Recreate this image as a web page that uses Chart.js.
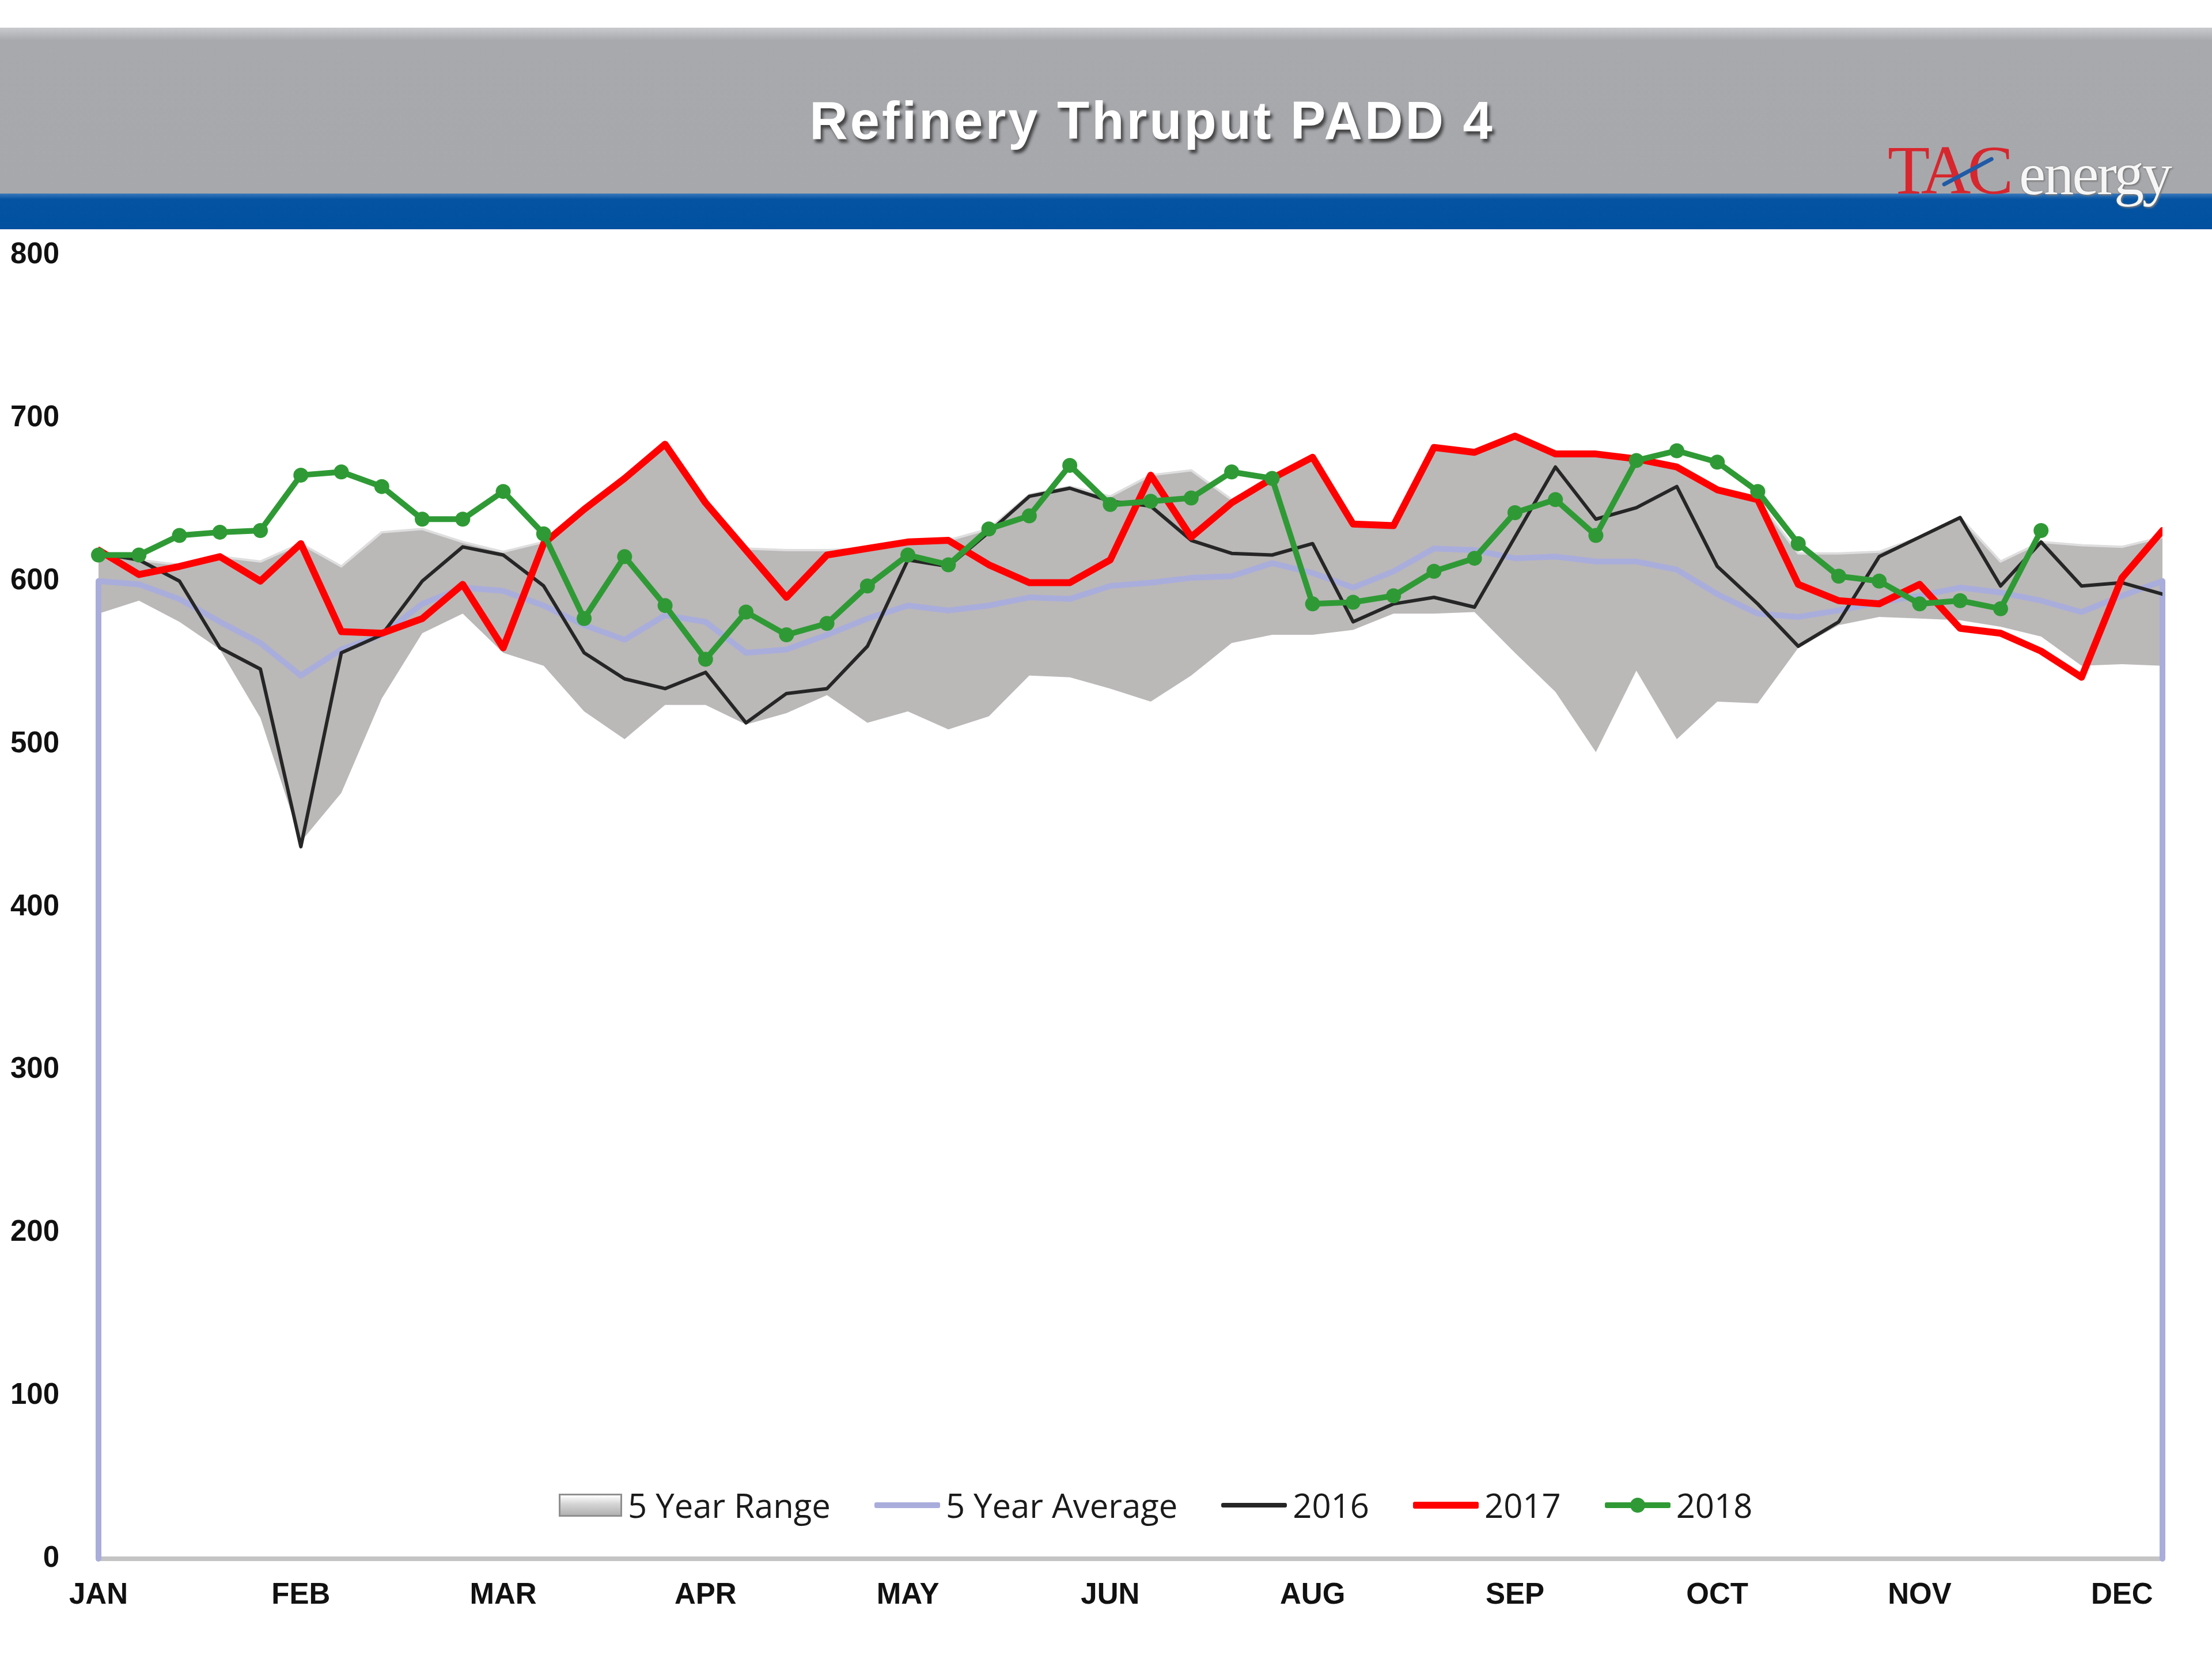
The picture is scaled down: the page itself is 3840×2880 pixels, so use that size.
<!DOCTYPE html>
<html>
<head>
<meta charset="utf-8">
<script src="https://cdn.jsdelivr.net/npm/chart.js@4.4.1/dist/chart.umd.min.js"></script>
<style>
html,body{margin:0;padding:0;background:#ffffff;}
body{width:3840px;height:2880px;position:relative;overflow:hidden;}
#c{position:absolute;left:0;top:0;}
#band{position:absolute;left:0;top:48px;width:3840px;height:288px;
  background:linear-gradient(to bottom,#c9cacd 0px,#a8a9ad 22px,#a7a8ac 100%);}
#blue{position:absolute;left:0;top:336px;width:3840px;height:62px;
  background:linear-gradient(to bottom,#3a78bb 0px,#0453a2 10px,#0051a0 100%);}
#title{position:absolute;left:2000px;top:163px;transform:translateX(-50%);
  font-family:"Liberation Sans",Arial,sans-serif;font-weight:bold;font-size:92px;line-height:1;
  letter-spacing:4px;color:#ffffff;white-space:nowrap;
  text-shadow:4px 6px 5px rgba(50,50,50,0.85);}
#logoTac{position:absolute;left:3277px;top:236px;font-family:"Liberation Serif","Times New Roman",serif;
  font-size:120px;line-height:1;color:#d7262d;letter-spacing:-6px;white-space:nowrap;}
#logoSwoosh{position:absolute;left:3372px;top:318px;width:100px;height:7px;background:#1f5aa6;
  border-radius:4px;transform:rotate(-28deg);transform-origin:left center;}
#logoEnergy{position:absolute;left:3505px;top:250px;font-family:"Liberation Serif","Times New Roman",serif;
  font-size:104px;line-height:1;color:#f6f6f6;letter-spacing:-3px;white-space:nowrap;
  text-shadow:0 0 2px #6e6e6e,2px 2px 3px #7a7a7a;}
#legend{position:absolute;left:970px;top:2573px;height:80px;display:flex;align-items:center;
  font-family:"Open Sans","Liberation Sans",sans-serif;font-size:58px;color:#1a1a1a;white-space:nowrap;}
.item{display:flex;align-items:center;margin-right:76px;}
.item span.t{margin-left:10px;line-height:1;}
.sw{position:relative;width:114px;height:40px;}
.sw .ln{position:absolute;left:0;right:0;top:50%;transform:translateY(-50%);border-radius:3px;}
.sw .dot{position:absolute;left:50%;top:50%;width:26px;height:26px;border-radius:50%;transform:translate(-50%,-50%);}
.box{width:104px;height:34px;border:3px solid #8f8f8f;
  background:linear-gradient(to bottom,#ffffff 0%,#d4d4d4 45%,#b2b2b2 100%);}
</style>
</head>
<body>
<canvas id="c" width="3840" height="2880"></canvas>
<div id="band"></div>
<div id="blue"></div>
<div id="title">Refinery Thruput PADD 4</div>
<div id="logoTac">TAC</div>
<div id="logoSwoosh"></div>
<div id="logoEnergy">energy</div>
<div id="legend"></div>
<script>
// ---------- data ----------
const weeks = 52;
const monthLabels = ['JAN','FEB','MAR','APR','MAY','JUN','AUG','SEP','OCT','NOV','DEC'];
const monthTickStep = 5;
const yMin = 0, yMax = 800, yStep = 100;
const avgBase = 0;

const rangeLow = [580,588,575,558,516,440,470,528,568,580,
                  556,548,520,503,524,524,512,519,530,513,
                  520,509,517,542,541,534,526,542,562,567,
                  567,570,580,580,581,556,532,495,545,503,
                  526,525,559,573,578,577,576,572,566,548,
                  549,548];
const rangeHigh = [618,613,610,615,612,623,609,630,632,624,
                   618,624,644,664,684,648,620,619,619,620,
                   624,625,632,653,658,652,665,668,650,663,
                   676,636,635,682,680,689,679,679,675,670,
                   656,650,617,617,618,627,639,612,624,622,
                   621,627];
const avg5 = [600,598,589,575,562,542,558,567,586,596,
              594,585,573,564,579,575,556,558,567,577,
              585,582,585,590,589,597,599,602,603,611,
              605,596,606,620,619,614,615,612,612,607,
              592,580,578,582,587,591,596,593,588,581,
              591,600];
const y2016 = [617,613,600,559,546,437,556,567,600,621,
               616,597,556,540,534,544,513,531,534,560,
               613,609,630,652,657,649,646,625,617,616,
               623,575,586,590,584,627,670,638,645,658,
               609,586,560,575,615,627,639,597,624,597,
               599,592];
const y2017 = [619,604,609,615,600,623,569,568,577,598,
               559,623,644,663,684,648,619,590,616,620,
               624,625,610,599,599,613,665,627,648,663,
               676,635,634,682,679,689,678,678,675,670,
               656,650,598,588,586,598,571,568,557,541,
               602,631];
const y2018 = [616,616,628,630,631,665,667,658,638,638,
               655,629,577,615,585,552,581,567,574,597,
               616,610,632,640,671,647,649,651,667,663,
               586,587,591,606,614,642,650,628,674,680,
               673,655,623,603,600,586,588,583,631];

// ---------- styles ----------
const colRange = '#bbb8b8', colRangeEdge = '#dedede';
const colAvg = '#a9addb', col2016 = '#262626', col2017 = '#ff0000', col2018 = '#2f9a35';

const pts = arr => arr.map((v, i) => ({x: i, y: v}));
const avgPts = [{x: 0, y: avgBase}].concat(pts(avg5), [{x: weeks - 1, y: avgBase}]);

Chart.defaults.font.family = '"Liberation Sans", Arial, sans-serif';

new Chart(document.getElementById('c'), {
  type: 'line',
  data: {
    datasets: [
      {label: 'range-low', data: pts(rangeLow), borderWidth: 0, pointRadius: 0, fill: false, order: 10},
      {label: '5 Year Range', data: pts(rangeHigh), borderColor: colRangeEdge, borderWidth: 4,
       backgroundColor: colRange, fill: '-1', pointRadius: 0, order: 9},
      {label: '5 Year Average', data: avgPts, borderColor: colAvg, borderWidth: 10, pointRadius: 0,
       fill: false, order: 8, clip: false},
      {label: '2016', data: pts(y2016), borderColor: col2016, borderWidth: 6, pointRadius: 0, fill: false, order: 3},
      {label: '2017', data: pts(y2017), borderColor: col2017, borderWidth: 12, pointRadius: 0, fill: false, order: 2},
      {label: '2018', data: pts(y2018), borderColor: col2018, borderWidth: 10, pointRadius: 13,
       pointBackgroundColor: col2018, pointBorderWidth: 0, fill: false, order: 1, clip: false}
    ]
  },
  options: {
    responsive: false,
    animation: false,
    devicePixelRatio: 1,
    events: [],
    layout: {padding: {top: 443, right: 86, left: 0, bottom: 0}},
    plugins: {legend: {display: false}, tooltip: {enabled: false}, title: {display: false}},
    elements: {line: {tension: 0, borderJoinStyle: 'round', borderCapStyle: 'round'}, point: {radius: 0}},
    scales: {
      x: {
        type: 'linear', min: 0, max: weeks - 1,
        afterFit: s => { s.height = 174; },
        afterBuildTicks: s => { s.ticks = monthLabels.map((m, k) => ({value: k * monthTickStep})); },
        grid: {display: false, drawTicks: false},
        border: {display: true, color: '#c4c4c4', width: 8},
        ticks: {autoSkip: false, maxRotation: 0, padding: 33, color: '#111111',
                font: {size: 51, weight: 'bold'},
                callback: v => monthLabels[Math.round(v / monthTickStep)] || ''}
      },
      y: {
        min: yMin, max: yMax,
        afterFit: s => { s.width = 171; },
        grid: {display: false, drawTicks: false},
        border: {display: false},
        ticks: {stepSize: yStep, padding: 68, color: '#111111', font: {size: 51, weight: 'bold'}}
      }
    }
  }
});

// ---------- legend ----------
const legendItems = [
  {label: '5 Year Range', kind: 'box'},
  {label: '5 Year Average', kind: 'line', color: colAvg, w: 10},
  {label: '2016', kind: 'line', color: col2016, w: 8},
  {label: '2017', kind: 'line', color: col2017, w: 12},
  {label: '2018', kind: 'dot', color: col2018, w: 10}
];
const lg = document.getElementById('legend');
legendItems.forEach(it => {
  const d = document.createElement('div');
  d.className = 'item';
  let sw;
  if (it.kind === 'box') {
    sw = document.createElement('div'); sw.className = 'box';
  } else {
    sw = document.createElement('div'); sw.className = 'sw';
    const ln = document.createElement('div'); ln.className = 'ln';
    ln.style.height = it.w + 'px'; ln.style.background = it.color;
    sw.appendChild(ln);
    if (it.kind === 'dot') {
      const dt = document.createElement('div'); dt.className = 'dot'; dt.style.background = it.color;
      sw.appendChild(dt);
    }
  }
  const t = document.createElement('span'); t.className = 't'; t.textContent = it.label;
  d.appendChild(sw); d.appendChild(t);
  lg.appendChild(d);
});
</script>
</body>
</html>
